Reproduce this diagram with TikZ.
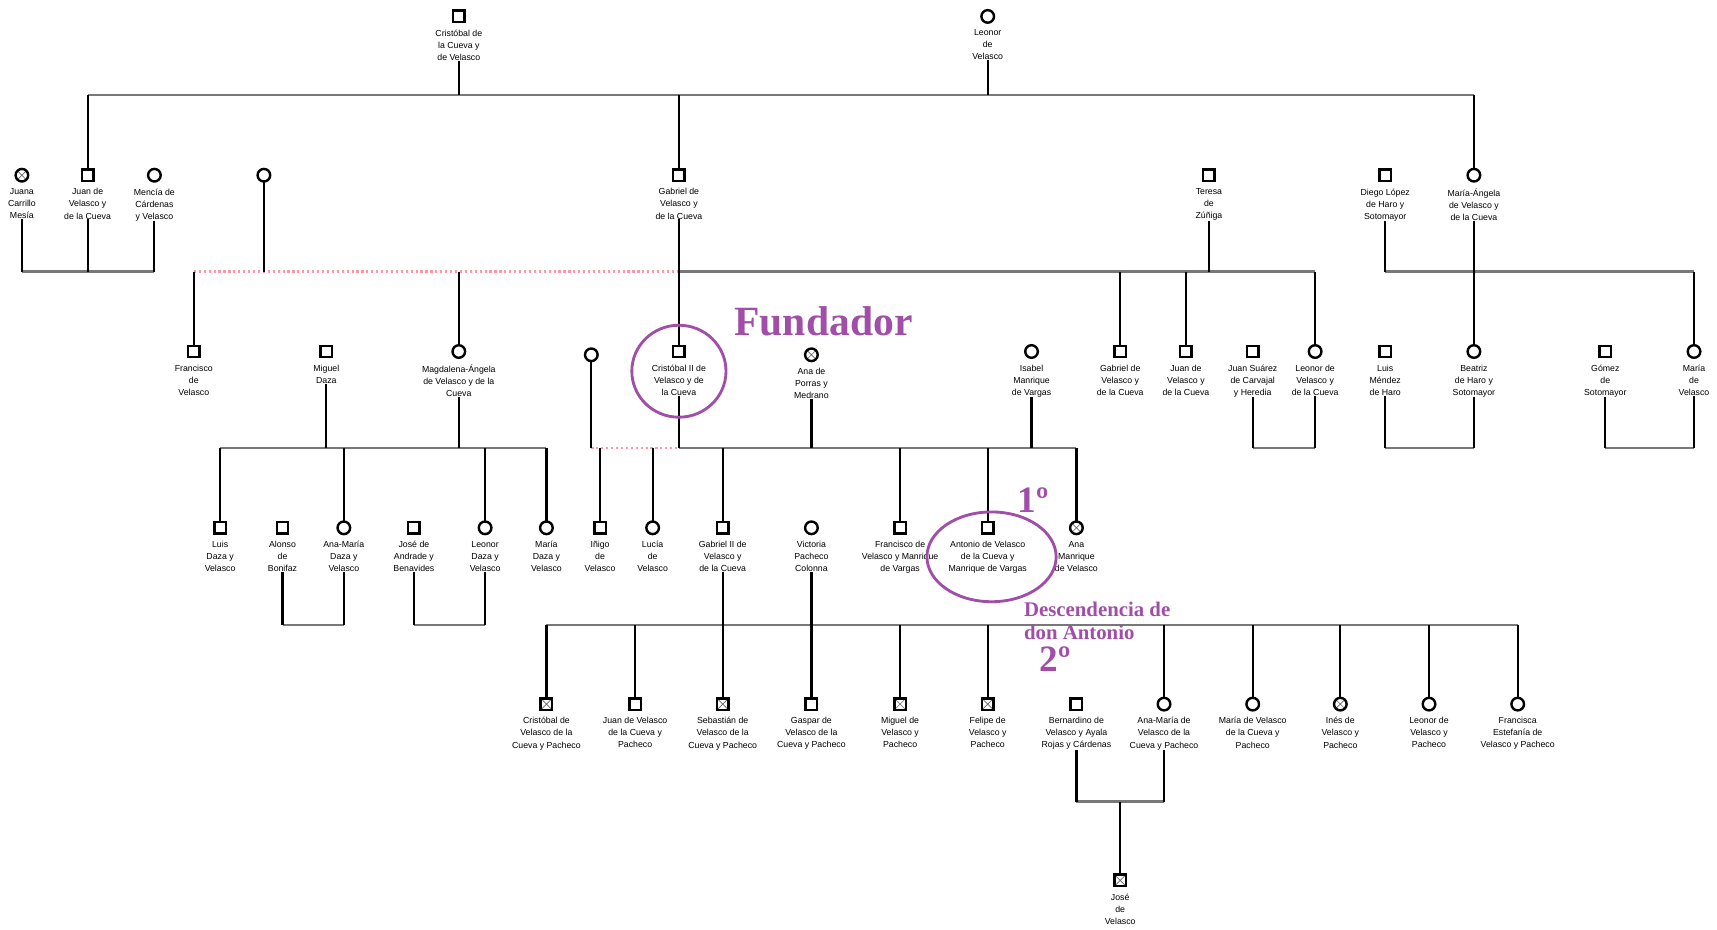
\documentclass[tikz,border=0pt]{standalone}
\usepackage{fontspec}
\setmainfont{Liberation Sans}
\newfontfamily\serifb{Liberation Serif}
\definecolor{purp}{RGB}{160,78,168}
\definecolor{pinkd}{RGB}{255,150,170}
\definecolor{hgray}{RGB}{120,120,120}
\tikzset{
 sym/.style={draw=black, line width=2.2pt, fill=white, inner sep=0pt, outer sep=0pt},
 male/.style={sym, rectangle, minimum size=10.5pt},
 female/.style={sym, circle, minimum size=11.5pt},
 dead/.style={path picture={\draw[line width=0.6pt, black!60] (path picture bounding box.north west) -- (path picture bounding box.south east) (path picture bounding box.north east) -- (path picture bounding box.south west);}},
 lbl/.style={font=\fontsize{8}{11}\selectfont, align=center, inner sep=0pt, anchor=north},
 vl/.style={line width=2pt, black},
 hl/.style={line width=2.2pt, hgray},
 dl/.style={line width=2.2pt, pinkd, dash pattern=on 2pt off 2.5pt},
 hilite/.style={draw=purp, line width=2.6pt},
 anno/.style={text=purp, inner sep=0pt},
}
\newcommand\Pnode[5]{%
 \node[#4] (#1) at (#2,#3) {};
 \node[lbl] (#1-l) at (#2,#3+12) {#5};
}
\begin{document}
\begin{tikzpicture}[x=1pt,y=-1pt]
\useasboundingbox (0,0) rectangle (1568,849);
% Row 1
\Pnode{c1}{419}{15}{male}{Cristóbal de\\la Cueva y\\de Velasco}
\Pnode{l1}{902}{15}{female}{Leonor\\de\\Velasco}
% Row 2
\Pnode{juana}{20}{160}{female,dead}{Juana\\Carrillo\\Mesía}
\Pnode{juan1}{80}{160}{male}{Juan de\\Velasco y\\de la Cueva}
\Pnode{mencia}{141}{160}{female}{Mencía de\\Cárdenas\\y Velasco}
\node[female] (unk1) at (241,160) {};
\Pnode{gabriel1}{620}{160}{male}{Gabriel de\\Velasco y\\de la Cueva}
\Pnode{teresa}{1104}{160}{male}{Teresa\\de\\Zúñiga}
\Pnode{diego}{1265}{160}{male}{Diego López\\de Haro y\\Sotomayor}
\Pnode{mangela}{1346}{160}{female}{María-Ángela\\de Velasco y\\de la Cueva}
% Row 3
\Pnode{francisco1}{177}{321}{male}{Francisco\\de\\Velasco}
\Pnode{miguel}{298}{321}{male}{Miguel\\Daza}
\Pnode{magdalena}{419}{321}{female}{Magdalena-Ángela\\de Velasco y de la\\Cueva}
\node[female] (unk2) at (540,324) {};
\Pnode{cristobal2}{620}{321}{male}{Cristóbal II de\\Velasco y de\\la Cueva}
\Pnode{anaporras}{741}{324}{female,dead}{Ana de\\Porras y\\Medrano}
\Pnode{isabel}{942}{321}{female}{Isabel\\Manrique\\de Vargas}
\Pnode{gabriel2}{1023}{321}{male}{Gabriel de\\Velasco y\\de la Cueva}
\Pnode{juan2}{1083}{321}{male}{Juan de\\Velasco y\\de la Cueva}
\Pnode{jsuarez}{1144}{321}{male}{Juan Suárez\\de Carvajal\\y Heredia}
\Pnode{leonor2}{1201}{321}{female}{Leonor de\\Velasco y\\de la Cueva}
\Pnode{luism}{1265}{321}{male}{Luis\\Méndez\\de Haro}
\Pnode{beatriz}{1346}{321}{female}{Beatriz\\de Haro y\\Sotomayor}
\Pnode{gomez}{1466}{321}{male}{Gómez\\de\\Sotomayor}
\Pnode{mariav}{1547}{321}{female}{María\\de\\Velasco}
% Row 4
\Pnode{luisd}{201}{482}{male}{Luis\\Daza y\\Velasco}
\Pnode{alonso}{258}{482}{male}{Alonso\\de\\Bonifaz}
\Pnode{anamd}{314}{482}{female}{Ana-María\\Daza y\\Velasco}
\Pnode{jose}{378}{482}{male}{José de\\Andrade y\\Benavides}
\Pnode{leonord}{443}{482}{female}{Leonor\\Daza y\\Velasco}
\Pnode{mariad}{499}{482}{female}{María\\Daza y\\Velasco}
\Pnode{inigo}{548}{482}{male}{Iñigo\\de\\Velasco}
\Pnode{lucia}{596}{482}{female}{Lucía\\de\\Velasco}
\Pnode{gabrielii}{660}{482}{male}{Gabriel II de\\Velasco y\\de la Cueva}
\Pnode{victoria}{741}{482}{female}{Victoria\\Pacheco\\Colonna}
\Pnode{francisco2}{822}{482}{male}{Francisco de\\Velasco y Manrique\\de Vargas}
\Pnode{antonio}{902}{482}{male}{Antonio de Velasco\\de la Cueva y\\Manrique de Vargas}
\Pnode{anam}{983}{482}{female,dead}{Ana\\Manrique\\de Velasco}
% Row 5
\Pnode{r5a}{499}{643}{male,dead}{Cristóbal de\\Velasco de la\\Cueva y Pacheco}
\Pnode{r5b}{580}{643}{male}{Juan de Velasco\\de la Cueva y\\Pacheco}
\Pnode{r5c}{660}{643}{male,dead}{Sebastián de\\Velasco de la\\Cueva y Pacheco}
\Pnode{r5d}{741}{643}{male}{Gaspar de\\Velasco de la\\Cueva y Pacheco}
\Pnode{r5e}{822}{643}{male,dead}{Miguel de\\Velasco y\\Pacheco}
\Pnode{r5f}{902}{643}{male,dead}{Felipe de\\Velasco y\\Pacheco}
\Pnode{bernardino}{983}{643}{male}{Bernardino de\\Velasco y Ayala\\Rojas y Cárdenas}
\Pnode{r5h}{1063}{643}{female}{Ana-María de\\Velasco de la\\Cueva y Pacheco}
\Pnode{r5i}{1144}{643}{female}{María de Velasco\\de la Cueva y\\Pacheco}
\Pnode{r5j}{1224}{643}{female,dead}{Inés de\\Velasco y\\Pacheco}
\Pnode{r5k}{1305}{643}{female}{Leonor de\\Velasco y\\Pacheco}
\Pnode{r5l}{1386}{643}{female}{Francisca\\Estefanía de\\Velasco y Pacheco}
% Row 6
\Pnode{josev}{1023}{804}{male,dead}{José\\de\\Velasco}

% ---- Family A
\coordinate (A1) at (80,87); \coordinate (A2) at (1346,87);
\draw[hl] (A1) -- (A2);
\foreach \n in {c1,l1} \draw[vl] (\n-l.south) -- (\n-l.south |- A1);
\foreach \n in {juan1,gabriel1,mangela} \draw[vl] (\n |- A1) -- (\n.north);
% ---- Family B
\coordinate (B1) at (20,248); \coordinate (B2) at (141,248);
\draw[hl] (B1) -- (B2);
\foreach \n in {juana,juan1,mencia} \draw[vl] (\n-l.south) -- (\n-l.south |- B1);
% ---- Family C (dotted)
\coordinate (C1) at (177,248); \coordinate (C2) at (620,248);
\draw[dl] (C1) -- (C2);
\draw[vl] (unk1.south) -- (unk1 |- C1);
\foreach \n in {francisco1,magdalena} \draw[vl] (\n |- C1) -- (\n.north);
% ---- Family D
\coordinate (D2) at (1201,248);
\draw[hl] (C2) -- (D2);
\draw[vl] (gabriel1-l.south) -- (cristobal2.north);
\draw[vl] (teresa-l.south) -- (teresa |- C1);
\foreach \n in {gabriel2,juan2,leonor2} \draw[vl] (\n |- C1) -- (\n.north);
% ---- Family E
\coordinate (E1) at (1265,248); \coordinate (E2) at (1547,248);
\draw[hl] (E1) -- (E2);
\foreach \n in {diego,mangela} \draw[vl] (\n-l.south) -- (\n-l.south |- E1);
\foreach \n in {beatriz,mariav} \draw[vl] (\n |- E1) -- (\n.north);
% ---- Family F
\coordinate (F1) at (201,409); \coordinate (F2) at (499,409);
\draw[hl] (F1) -- (F2);
\foreach \n in {miguel,magdalena} \draw[vl] (\n-l.south) -- (\n-l.south |- F1);
\foreach \n in {luisd,anamd,leonord,mariad} \draw[vl] (\n |- F1) -- (\n.north);
% ---- Family G (dotted)
\coordinate (G1) at (540,409); \coordinate (G2) at (620,409);
\draw[dl] (G1) -- (G2);
\draw[vl] (unk2.south) -- (unk2 |- G1);
\foreach \n in {inigo,lucia} \draw[vl] (\n |- G1) -- (\n.north);
% ---- Family H
\coordinate (H2) at (983,409);
\draw[hl] (G2) -- (H2);
\foreach \n in {cristobal2,anaporras,isabel} \draw[vl] (\n-l.south) -- (\n-l.south |- G1);
\foreach \n in {gabrielii,francisco2,antonio,anam} \draw[vl] (\n |- G1) -- (\n.north);
% ---- Families I, J, K
\coordinate (I1) at (1144,409); \coordinate (I2) at (1201,409);
\draw[hl] (I1) -- (I2);
\foreach \n in {jsuarez,leonor2} \draw[vl] (\n-l.south) -- (\n-l.south |- I1);
\coordinate (J1) at (1265,409); \coordinate (J2) at (1346,409);
\draw[hl] (J1) -- (J2);
\foreach \n in {luism,beatriz} \draw[vl] (\n-l.south) -- (\n-l.south |- J1);
\coordinate (K1) at (1466,409); \coordinate (K2) at (1547,409);
\draw[hl] (K1) -- (K2);
\foreach \n in {gomez,mariav} \draw[vl] (\n-l.south) -- (\n-l.south |- K1);
% ---- Families L, M
\coordinate (L1) at (258,571); \coordinate (L2) at (314,571);
\draw[hl] (L1) -- (L2);
\foreach \n in {alonso,anamd} \draw[vl] (\n-l.south) -- (\n-l.south |- L1);
\coordinate (M1) at (378,571); \coordinate (M2) at (443,571);
\draw[hl] (M1) -- (M2);
\foreach \n in {jose,leonord} \draw[vl] (\n-l.south) -- (\n-l.south |- M1);
% ---- Family N
\coordinate (N1) at (499,571); \coordinate (N2) at (1386,571);
\draw[hl] (N1) -- (N2);
\draw[vl] (gabrielii-l.south) -- (r5c.north);
\draw[vl] (victoria-l.south) -- (r5d.north);
\foreach \n in {r5a,r5b,r5e,r5f,r5h,r5i,r5j,r5k,r5l} \draw[vl] (\n |- N1) -- (\n.north);
% ---- Family O
\coordinate (O1) at (983,732); \coordinate (O2) at (1063,732);
\draw[hl] (O1) -- (O2);
\foreach \n in {bernardino,r5h} \draw[vl] (\n-l.south) -- (\n-l.south |- O1);
\draw[vl] (josev |- O1) -- (josev.north);

% ---- Annotations
\draw[hilite] (620,339) ellipse [x radius=43, y radius=42];
\draw[hilite] (905.5,508.5) ellipse [x radius=59, y radius=41];
\node[anno, anchor=base, font=\serifb\bfseries\fontsize{38}{40}\selectfont] (fund) at (752,306) {Fundador};
\node[anno, anchor=base west, font=\serifb\bfseries\fontsize{34}{36}\selectfont] (uno) at (929,468) {1º};
\node[anno, anchor=base west, font=\serifb\bfseries\fontsize{19}{21}\selectfont] (desc1) at (935,563) {Descendencia de};
\node[anno, anchor=base west, font=\serifb\bfseries\fontsize{19}{21}\selectfont] (desc2) at (935,584) {don Antonio};
\node[anno, anchor=base west, font=\serifb\bfseries\fontsize{34}{36}\selectfont] (dos) at (949,613) {2º};
\end{tikzpicture}
\end{document}
